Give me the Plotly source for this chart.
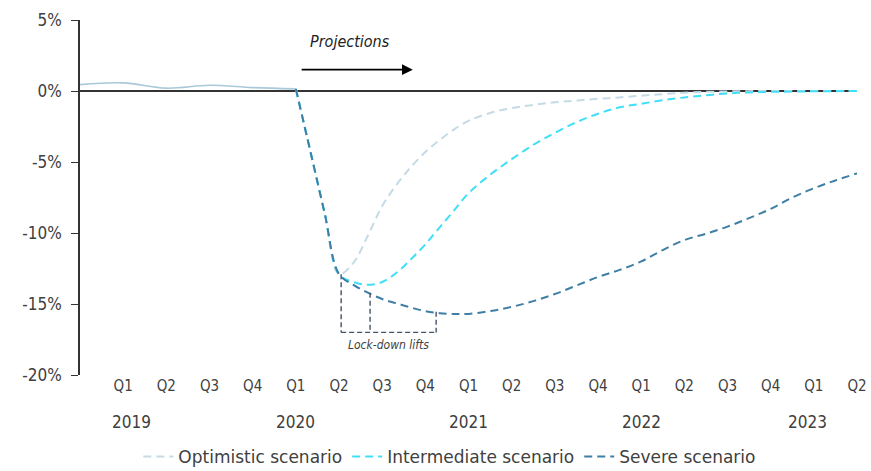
import plotly.graph_objects as go

# ---- data (x = quarter index, 0 = Q1 2019) ----
hist_x = [-1, 0, 1, 2, 3, 4]
hist_y = [0.45, 0.57, 0.2, 0.4, 0.24, 0.15]

proj_x = [4, 4.333, 4.667, 5, 5.333, 5.667, 6, 6.333, 6.667, 7, 7.333, 7.667, 8,
          8.5, 9, 9.5, 10, 10.5, 11, 11.5, 12, 12.5, 13, 13.5, 14, 14.5, 15, 15.5, 16, 16.5, 17]
optimistic = [0.15, -4.2, -8.6, -12.9, -12.1, -10.2, -8.1, -6.6, -5.35, -4.3, -3.45, -2.7, -2.1,
              -1.55, -1.2, -0.98, -0.8, -0.67, -0.55, -0.45, -0.33, -0.22, -0.12, -0.06, -0.03, -0.01,
              0.0, 0.0, 0.0, 0.0, 0.0]
intermediate = [0.15, -4.2, -8.6, -12.9, -13.45, -13.65, -13.45, -12.8, -11.85, -10.8, -9.6, -8.4, -7.2,
                -5.9, -4.8, -3.8, -2.95, -2.2, -1.6, -1.15, -0.9, -0.65, -0.45, -0.3, -0.17, -0.1,
                -0.06, -0.04, -0.02, -0.01, 0.0]
severe = [0.15, -4.2, -8.6, -12.9, -13.65, -14.2, -14.65, -14.95, -15.25, -15.5, -15.65, -15.7, -15.7,
          -15.5, -15.2, -14.8, -14.3, -13.7, -13.1, -12.6, -12.0, -11.2, -10.5, -10.05, -9.55, -8.95,
          -8.3, -7.5, -6.85, -6.3, -5.8]

quarter_ticks = list(range(0, 18))
quarter_labels = ["Q1", "Q2", "Q3", "Q4"] * 4 + ["Q1", "Q2"]
year_labels = ["2019", "2020", "2021", "2022", "2023"]
year_pos = [0.2, 4, 8, 12, 15.85]

y_ticks = [5, 0, -5, -10, -15, -20]
y_labels = ["5%", "0%", "-5%", "-10%", "-15%", "-20%"]

lockdown_x = [5.05, 5.72, 7.25]
lockdown_top = [-12.9, -14.2, -15.55]
lockdown_bottom = -17.0

FONT = "DejaVu Sans Condensed, Liberation Sans Narrow, DejaVu Sans, sans-serif"
TXT = "#404040"

fig = go.Figure()
fig.add_trace(go.Scatter(x=hist_x, y=hist_y, mode="lines", showlegend=False,
                         line=dict(color="#a9c9d8", width=1.6, shape="spline")))
fig.add_trace(go.Scatter(x=proj_x, y=optimistic, mode="lines", name="Optimistic scenario",
                         line=dict(color="#c4dbe5", width=2, dash="8px,5px", shape="spline")))
fig.add_trace(go.Scatter(x=proj_x, y=intermediate, mode="lines", name="Intermediate scenario",
                         line=dict(color="#3fdff7", width=2, dash="8px,5px", shape="spline")))
fig.add_trace(go.Scatter(x=proj_x, y=severe, mode="lines", name="Severe scenario",
                         line=dict(color="#3f7fa6", width=2, dash="8px,5px", shape="spline")))

# lock-down bracket
for lx, lt in zip(lockdown_x, lockdown_top):
    fig.add_shape(type="line", x0=lx, x1=lx, y0=lt, y1=lockdown_bottom,
                  line=dict(color="#44546a", width=1.4, dash="5px,3px"))
fig.add_shape(type="line", x0=lockdown_x[0], x1=lockdown_x[-1], y0=lockdown_bottom, y1=lockdown_bottom,
              line=dict(color="#44546a", width=1.4, dash="5px,3px"))
fig.add_annotation(x=(lockdown_x[0] + lockdown_x[-1]) / 2, y=-17.9, text="<i>Lock-down lifts</i>",
                   showarrow=False, font=dict(family=FONT, size=12, color=TXT))

# projections arrow
fig.add_annotation(x=6.71, y=1.5, ax=4.1, ay=1.5, xref="x", yref="y", axref="x", ayref="y",
                   showarrow=True, arrowhead=2, arrowsize=1.2, arrowwidth=1.8, arrowcolor="#000000",
                   text="")
fig.add_annotation(x=5.25, y=3.5, text="<i>Projections</i>", showarrow=False,
                   font=dict(family=FONT, size=16, color="#222222"))

for yl, yp in zip(year_labels, year_pos):
    fig.add_annotation(x=yp, y=-0.132, xref="x", yref="paper", text=yl, showarrow=False,
                       yanchor="middle", font=dict(family=FONT, size=17, color=TXT))

fig.update_layout(
    width=871, height=471,
    margin=dict(l=80, r=14, t=20, b=96, autoexpand=False),
    paper_bgcolor="white", plot_bgcolor="white",
    font=dict(family=FONT, color=TXT),
    legend=dict(orientation="h", x=0.476, xanchor="center", y=-0.231, yanchor="middle",
                font=dict(family="DejaVu Sans, sans-serif", size=17, color=TXT),
                itemwidth=30, tracegroupgap=0),
    xaxis=dict(range=[-1, 17], showgrid=False, zeroline=False, showline=False, ticks="",
               automargin=False,
               tickmode="array", tickvals=quarter_ticks, ticktext=quarter_labels,
               tickfont=dict(family=FONT, size=15, color=TXT)),
    yaxis=dict(range=[-20, 5], showgrid=False, zeroline=True, zerolinecolor="#333333", zerolinewidth=1.6,
               automargin=False,
               showline=True, linecolor="#333333", linewidth=1.6, ticks="outside", ticklen=7,
               tickcolor="#333333", tickwidth=1.4,
               tickmode="array", tickvals=y_ticks, ticktext=y_labels, ticklabelstandoff=6,
               tickfont=dict(family=FONT, size=17, color=TXT)),
)

fig.write_html("out.html", config={"displayModeBar": False},
               post_script="document.body.style.margin='0px';document.body.style.overflow='hidden';")
